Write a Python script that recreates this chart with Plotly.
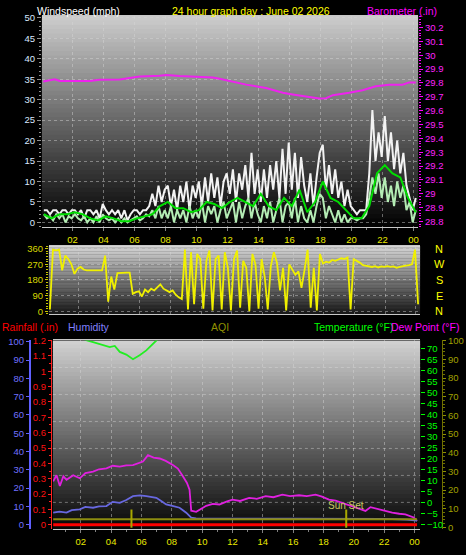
import numpy as np
import plotly.graph_objects as go

W, H = 466, 555

# ---------------- DATA ----------------
hour_ticks = [2, 4, 6, 8, 10, 12, 14, 16, 18, 20, 22, 24]
hour_labels = ["02", "04", "06", "08", "10", "12", "14", "16", "18", "20", "22", "00"]

# top panel: wind (0.2 h samples from 00:09)
wind_hours = [round(0.15 + 0.2 * i, 2) for i in range(121)]
wind_gust = [3, 3, 2, 3, 3, 2, 3, 3, 2, 3, 3, 2, 3, 1, 3, 3, 2, 3, 1, 4.5,
             3, 2, 3, 2, 3, 1, 3, 0.5, 2, 3, 3, 2, 3, 3, 4, 7, 4, 9, 5, 8,
             9, 4, 8, 3, 9, 5, 10, 3, 9, 6, 10, 4, 11, 5, 12, 6, 11, 4, 10, 12,
             7, 13, 5, 12, 8, 14, 6, 17, 7, 13, 5, 13, 6, 14, 8, 15, 6, 18, 7, 19.5,
             8, 17, 6, 16, 9, 5, 12, 4, 11, 17, 19, 8, 14, 7, 13, 6, 10, 4, 8, 4,
             3, 2, 3, 3, 3, 12, 27.5, 15, 22, 16, 26, 15, 22, 13, 20, 12, 17, 9, 6, 3,
             6]
wind_speed = [2, 1, 1.5, 0.5, 2, 1, 2, 0, 1.5, 1, 2, 1, 0.5, 1.5, 0, 1, 0, 1.5, 0, 2,
              1, 0.5, 1, 0, 1, 0, 1, 0, 0.5, 1, 1.5, 0.5, 1, 2, 1.5, 3, 1, 4, 1, 3,
              1, 4, 0, 3, 1, 3, 0, 4, 1, 3, 1, 5, 0, 4, 2, 4, 0, 3, 5, 1,
              3, 5, 0, 5, 1, 4, 6, 1, 5, 2, 0, 4, 1, 5, 0, 3, 6, 0, 4, 5,
              1, 6, 0, 4, 1, 0, 3, 0, 4, 7, 6, 1, 4, 2, 0, 3, 0, 2, 0, 1,
              1, 0.5, 1, 1, 2, 6, 11, 7, 12, 6, 11, 5, 9, 4, 10, 6, 9, 3, 5, 0,
              3]
avg_hours = [round(0.15 + 0.5 * i, 2) for i in range(49)]
wind_avg = [2, 1, 2, 2, 2.5, 2, 1, 0.5, 1.5, 1, 0.3, 0.3, 1, 1.5, 2, 4, 5, 3.5, 3.5, 2.5,
            3, 5, 4.5, 3.5, 5, 6, 5, 4, 7, 4, 3, 6, 4, 8, 2.5, 5, 10, 6, 5, 3,
            1, 1, 4, 12, 14, 12, 11, 6, 2.5]

baro_hours = [0.11, 0.86, 1.18, 3.11, 3.76, 5.05, 5.9, 6.34, 7.62, 8.05, 8.91, 10.2, 11.06,
              11.49, 12.35, 13.2, 14.49, 15.57, 16.21, 17.07, 17.93, 18.36, 18.8, 19.85,
              20.72, 21.57, 22.43, 23.29, 23.72, 24.15]
baro = [29.81, 29.826, 29.814, 29.814, 29.823, 29.826, 29.84, 29.847, 29.852, 29.857,
        29.85, 29.843, 29.84, 29.83, 29.81, 29.788, 29.764, 29.729, 29.717, 29.705,
        29.688, 29.69, 29.712, 29.729, 29.747, 29.776, 29.788, 29.788, 29.804, 29.804]
baro_ticks = [28.8, 28.9, 29.0, 29.1, 29.2, 29.3, 29.4, 29.5, 29.6, 29.7, 29.8, 29.9, 30.0, 30.1, 30.2]
baro_labels = ["28.8", "28.9", "29", "29.1", "29.2", "29.3", "29.4", "29.5", "29.6",
               "29.7", "29.8", "29.9", "30", "30.1", "30.2"]

# middle panel: wind direction
dir_hours = wind_hours
wind_dir = [10, 355, 350, 355, 235, 320, 300, 270, 215, 245, 255, 240, 235, 235, 235,
            235, 232, 235, 320, 55, 200, 125, 220, 222, 222, 222, 222, 100, 110, 115,
            85, 125, 110, 130, 120, 140, 155, 130, 120, 110, 120, 95, 80, 70, 355,
            10, 340, 40, 330, 300, 15, 290, 350, 5, 300, 320, 10, 340, 250, 5,
            300, 350, 20, 290, 250, 0, 330, 270, 15, 300, 200, 10, 260, 340, 280,
            120, 250, 5, 270, 240, 210, 230, 135, 240, 355, 20, 250, 5, 330, 275,
            285, 280, 295, 290, 300, 305, 300, 310, 10, 300, 290, 280, 265, 262, 258,
            255, 260, 252, 258, 255, 260, 255, 258, 250, 255, 260, 262, 265, 270, 355,
            40]
dir_ticks = [0, 90, 180, 270, 360]
dir_letters = ["N", "E", "S", "W", "N"]

# bottom panel
temp_hours = [0.18, 1, 2, 2.41, 2.81, 3.25, 3.6, 3.91, 4.24, 4.57, 5.0, 5.44, 5.88, 6.32,
              6.98, 7.5, 8, 9, 10, 12, 14, 16, 18, 20, 22, 24.17]
temperature = [82, 78, 75, 73.7, 73.0, 72.2, 71.6, 70.7, 71.2, 68.5, 67.3, 65.2, 67.0, 69.2,
               73.7, 76.5, 79, 84, 88, 93, 96, 97, 95, 90, 86, 83]
dp_hours = [0.18, 0.4, 0.62, 0.85, 1.06, 1.5, 1.93, 2.3, 2.81, 3.2, 3.69, 4.1, 4.57, 5.0,
            5.44, 5.8, 6.1, 6.43, 6.8, 7.2, 7.6, 8.07, 8.4, 8.73, 9.0, 9.17, 9.28, 9.61,
            10.0, 10.27, 10.7, 11.14, 11.6, 12.0, 12.5, 13.1, 13.6, 14.19, 14.7, 15.29,
            15.8, 16.39, 16.9, 17.48, 17.9, 18.36, 18.8, 19.24, 19.7, 20.11, 20.5, 20.77,
            21.1, 21.65, 22.1, 22.53, 23.0, 23.4, 23.95, 24.17]
dew_point = [9.7, 12.5, 7.6, 12.0, 10.4, 12.5, 11.1, 13.5, 14.1, 15.2, 15.6, 16.8, 16.4,
             17.0, 17.1, 18.0, 18.7, 21.6, 20.5, 20.1, 19.0, 17.1, 15.5, 12.0, 9.0, 5.9,
             -3.6, -4.1, -2.5, -1.4, -0.5, -0.8, 0.5, 1.4, 0.8, 2.2, 1.8, 3.0, 2.5, 3.7,
             3.0, 3.4, 3.0, 3.7, 2.8, 1.4, 1.0, 0.0, -1.0, -2.0, -3.0, -3.7, -2.0, -3.0,
             -3.8, -4.5, -5.0, -5.3, -6.7, -8.2]
hum_hours = [0.18, 0.6, 1.06, 1.4, 1.93, 2.3, 2.81, 3.2, 3.69, 4.1, 4.57, 5.0, 5.44, 5.9,
             6.32, 6.98, 7.3, 7.63, 8.1, 8.51, 8.95, 9.28, 9.6, 10.5, 12, 14, 16, 18, 20,
             22, 23.5, 24.17]
humidity = [6.6, 7.2, 6.6, 8.0, 8.4, 9.8, 9.3, 10.0, 10.2, 12.5, 12.0, 13.5, 15.6, 16.0,
            15.6, 14.7, 13.0, 11.1, 10.2, 9.3, 6.6, 3.9, 3.5, 3.4, 3.3, 3.3, 3.3, 3.4, 3.5,
            3.2, 2.8, 2.2]
flat_hours = [0.18, 4, 8, 12, 16, 20, 24.17]
rainfall = [0, 0, 0, 0, 0, 0, 0]
aqi = [4.4, 4.4, 4.4, 4.4, 4.4, 4.4, 4.4]
sun_hours = [5.34, 19.5]
sun_labels = ["", "Sun Set"]

rain_ticks = [0, 0.1, 0.2, 0.3, 0.4, 0.5, 0.6, 0.7, 0.8, 0.9, 1.0, 1.1, 1.2]
rain_labels = ["0", "0.1", "0.2", "0.3", "0.4", "0.5", "0.6", "0.7", "0.8", "0.9", "1", "1.1", "1.2"]

# ---------------- FIGURE ----------------
FONT = "Liberation Sans, Arial, sans-serif"
GRID = "rgba(215,215,215,0.45)"
TICK_SIZE = 9.5
TITLE_SIZE = 10.5


def px(x):
    return x / W


def py(y):
    return (H - y) / H


fig = go.Figure()

# top panel traces
fig.add_trace(go.Scatter(x=wind_hours, y=wind_gust, mode="lines",
                         line=dict(color="#f2f2f2", width=2), xaxis="x", yaxis="y"))
fig.add_trace(go.Scatter(x=wind_hours, y=wind_speed, mode="lines",
                         line=dict(color="#b4ecb4", width=2), xaxis="x", yaxis="y"))
fig.add_trace(go.Scatter(x=avg_hours, y=wind_avg, mode="lines",
                         line=dict(color="#00dd00", width=2), xaxis="x", yaxis="y"))
fig.add_trace(go.Scatter(x=baro_hours, y=baro, mode="lines",
                         line=dict(color="#ee22ee", width=2), xaxis="x", yaxis="y2"))

# middle panel
fig.add_trace(go.Scatter(x=dir_hours, y=wind_dir, mode="lines",
                         line=dict(color="#f0f000", width=1.8), xaxis="x2", yaxis="y3"))

# bottom panel
fig.add_trace(go.Scatter(x=temp_hours, y=temperature, mode="lines",
                         line=dict(color="#22ee22", width=1.8), xaxis="x3", yaxis="y4"))
fig.add_trace(go.Scatter(x=dp_hours, y=dew_point, mode="lines",
                         line=dict(color="#e020e0", width=1.8), xaxis="x3", yaxis="y4"))
fig.add_trace(go.Scatter(x=hum_hours, y=humidity, mode="lines",
                         line=dict(color="#6868e0", width=1.8), xaxis="x3", yaxis="y5"))
fig.add_trace(go.Scatter(x=flat_hours, y=rainfall, mode="lines",
                         line=dict(color="#ff0000", width=3), xaxis="x3", yaxis="y6"))
fig.add_trace(go.Scatter(x=flat_hours, y=aqi, mode="lines",
                         line=dict(color="#8c8c10", width=2), xaxis="x3", yaxis="y7"))


# gradient backgrounds (styling bands)
def add_gradient(xref, yref, top, bottom, n=48):
    for i in range(n):
        f0 = i / n
        f1 = (i + 1) / n
        v = int(round(bottom + (top - bottom) * (f0 + f1) / 2))
        fig.add_shape(type="rect", xref=xref, yref=yref, x0=0, x1=1, y0=f0,
                      y1=min(1, f1 + 0.004), fillcolor=f"rgb({v},{v},{v})",
                      line_width=0, layer="below")


add_gradient("x domain", "y domain", 205, 0)
add_gradient("x2 domain", "y3 domain", 215, 25)
add_gradient("x3 domain", "y4 domain", 210, 5)

# bottom-panel horizontal dotted grid (pixel divisions)
for k in range(1, 7):
    fig.add_shape(type="line", xref="x3 domain", yref="y4 domain", x0=0, x1=1,
                  y0=k / 7, y1=k / 7, line=dict(color=GRID, width=1, dash="dot"),
                  layer="below")

# sunrise / sunset markers
for h, lab in zip(sun_hours, sun_labels):
    fig.add_shape(type="line", xref="x3", yref="y6", x0=h, x1=h, y0=-0.02, y1=0.1,
                  line=dict(color="#a8a800", width=2))
    if lab:
        fig.add_annotation(x=h, y=0.1, xref="x3", yref="y6", text=lab, showarrow=False,
                           yanchor="bottom", yshift=-4,
                           font=dict(color="#c8c860", size=10, family=FONT))

tick_font = dict(family=FONT, size=TICK_SIZE)

xcommon = dict(tickvals=hour_ticks, ticktext=hour_labels, showgrid=True, gridcolor=GRID,
               griddash="dot", zeroline=False, showline=True, linecolor="#c8c8c8",
               mirror=True, ticks="outside", ticklen=3, tickcolor="#808080",
               tickfont=dict(color="#e8e800", **tick_font))

fig.update_layout(
    width=W, height=H, margin=dict(l=0, r=0, t=0, b=0),
    paper_bgcolor="black", plot_bgcolor="black", showlegend=False,
    font=dict(family=FONT),
    xaxis=dict(domain=[px(42), px(419)], range=[0.026, 24.3], anchor="y", **xcommon,
               minor=dict(dtick=1, ticklen=2, tickcolor="#808080")),
    yaxis=dict(domain=[py(225), py(10)], range=[-1.2, 50.5], tick0=0, dtick=5,
               showgrid=True, gridcolor=GRID, griddash="dot", zeroline=False,
               ticks="outside", ticklen=4, tickcolor="#909090",
               minor=dict(dtick=1, ticklen=2, tickcolor="#909090"),
               tickfont=dict(color="#d8e8ff", **tick_font), anchor="x"),
    yaxis2=dict(overlaying="y", side="right", anchor="x", range=[28.757, 30.285],
                tickvals=baro_ticks, ticktext=baro_labels, showgrid=False, zeroline=False,
                ticks="outside", ticklen=4, tickcolor="#ff00ff",
                minor=dict(dtick=0.02, ticklen=2, tickcolor="#ff00ff"),
                tickfont=dict(color="#ff22ff", **tick_font)),
    xaxis2=dict(domain=[px(49), px(421)], range=[0.085, 24.28], anchor="y3",
                tickvals=hour_ticks, showticklabels=False, showgrid=True, gridcolor=GRID,
                griddash="dot", zeroline=False, showline=True, linecolor="#c8c8c8",
                mirror=True, ticks=""),
    yaxis3=dict(domain=[py(313), py(244)], range=[-15.3, 375.3], anchor="x2",
                tickvals=dir_ticks, showgrid=True, gridcolor=GRID, griddash="dot",
                zeroline=False, ticks="outside", ticklen=3, tickcolor="#c8c800",
                minor=dict(dtick=15, ticklen=2, tickcolor="#c8c800", showgrid=False),
                tickfont=dict(color="#d8d800", **tick_font)),
    xaxis3=dict(domain=[px(53), px(421)], range=[0.16, 24.37], anchor="y4", **xcommon,
                minor=dict(dtick=1, ticklen=2, tickcolor="#808080")),
    yaxis4=dict(domain=[py(532), py(340)], range=[-12.1, 73.7], anchor="x3", side="right",
                tick0=-10, dtick=5, showgrid=False, zeroline=False, ticks="outside",
                ticklen=4, tickcolor="#00ff00",
                tickfont=dict(color="#00ff00", **tick_font)),
    yaxis5=dict(overlaying="y4", side="left", anchor="free", position=px(30),
                range=[-2.53, 100.7], tick0=0, dtick=10, showgrid=False, zeroline=False,
                showline=True, linecolor="#6060ff", linewidth=2, ticks="outside",
                ticklen=3, tickcolor="#6060ff",
                tickfont=dict(color="#7070ff", **tick_font)),
    yaxis6=dict(overlaying="y4", side="left", anchor="free", position=px(51),
                range=[-0.030, 1.2006], tickvals=rain_ticks, ticktext=rain_labels,
                showgrid=False, zeroline=False, showline=True, linecolor="#ff2020",
                ticks="outside", ticklen=3, tickcolor="#ff2020",
                minor=dict(dtick=0.05, ticklen=2, tickcolor="#ff2020"),
                tickfont=dict(color="#ff1010", **tick_font)),
    yaxis7=dict(overlaying="y4", side="right", anchor="free", position=px(443),
                range=[-1.05, 100.1], tick0=0, dtick=10, showgrid=False, zeroline=False,
                showline=True, linecolor="#707000", ticks="outside", ticklen=3,
                tickcolor="#909000",
                minor=dict(dtick=2, ticklen=2, tickcolor="#707000"),
                tickfont=dict(color="#a0a000", **tick_font)),
)


# titles / legends as text
def label(text, x, y, color, size=TITLE_SIZE, anchor="left"):
    fig.add_annotation(x=px(x), y=py(y), xref="paper", yref="paper", text=text,
                       showarrow=False, xanchor=anchor, yanchor="middle",
                       font=dict(color=color, size=size, family=FONT))


label("Windspeed (mph)", 35, 5, "#ffffff")
label("24 hour graph day : June 02 2026", 252, 5, "#ffff00", anchor="center")
label("Barometer (.in)", 440, 5, "#ff00ff", anchor="right")
label("Rainfall (.in)", 0, 326, "#ff0000")
label("Humidity", 66, 326, "#8080ff")
label("AQI", 220, 326, "#909000", anchor="center")
label("Temperature (°F)", 313, 326, "#00ff00")
label("Dew Point (°F)", 462, 326, "#ff00ff", anchor="right")

for v, letter in zip(dir_ticks, dir_letters):
    fig.add_annotation(x=px(440), y=v, xref="paper", yref="y3", text=letter,
                       showarrow=False, xanchor="center", yanchor="middle",
                       font=dict(color="#ffff00", size=11, family=FONT))

fig.write_html("out.html", config={"displayModeBar": False},
               post_script="document.body.style.margin='0';")
